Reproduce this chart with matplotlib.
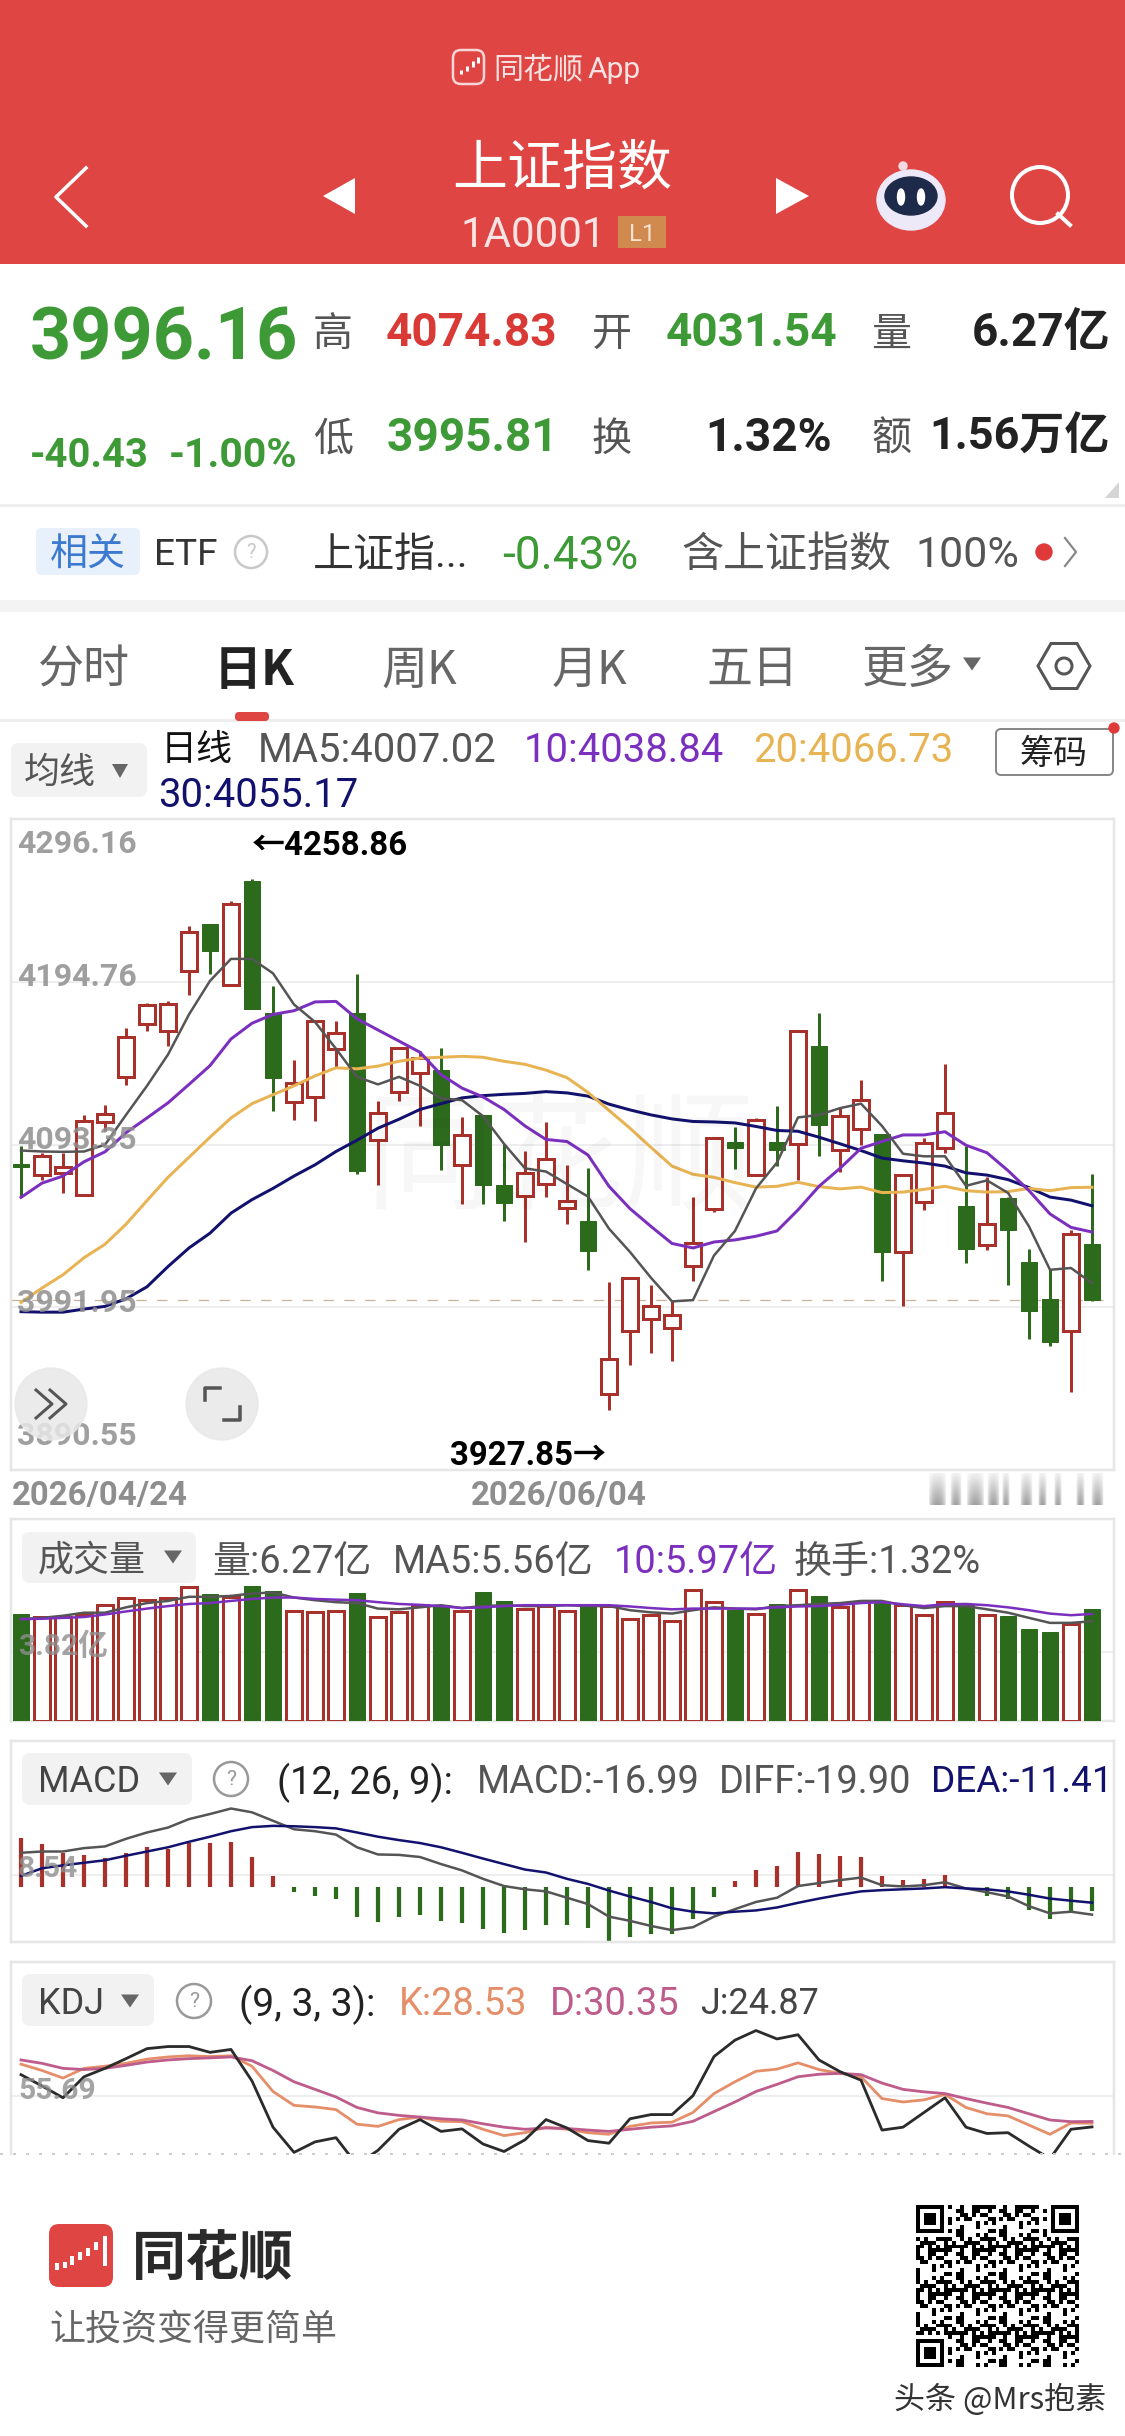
import matplotlib
matplotlib.use('Agg')
import numpy as np
import matplotlib.pyplot as plt
from matplotlib.colors import LinearSegmentedColormap
from matplotlib.patches import Rectangle, Circle, Ellipse, Polygon, FancyBboxPatch

W, H = 1125, 2436

RED = '#DE4543'
UP = '#A8322B'
DOWN = '#2C6A1C'
GREEN_TXT = '#3E9A36'
RED_TXT = '#D93A36'
GRID = '#E9E9E9'
C_MA5 = '#555555'
C_MA10 = '#7B2FBE'
C_MA20 = '#E8B453'
C_MA30 = '#12126E'
C_K = '#E58F6A'
C_D = '#BE5C8C'
C_J = '#2B2B2B'

# 日线数据
opens = [4081.2, 4074.3, 4075.7, 4061.8, 4107.1, 4135.5, 4168.3, 4164.1, 4201.7, 4230.6, 4192.5, 4257.6, 4175.0,
         4119.9, 4123.0, 4152.8, 4175.3, 4096.0, 4126.3, 4137.7, 4139.7, 4080.4, 4111.6, 4068.2, 4061.5, 4068.5,
         4053.7, 4045.6, 3938.0, 3976.9, 3984.7, 3979.1, 4017.5, 4053.4, 4095.2, 4074.3, 4095.2, 4093.8, 4154.7,
         4090.2, 4103.2, 4099.9, 4026.4, 4057.6, 4091.0, 4054.8, 4030.9, 4059.8, 4020.0, 3997.2, 3976.9, 4031.54]
closes = [4079.3, 4086.2, 4079.3, 4107.7, 4112.4, 4160.5, 4180.3, 4180.6, 4225.6, 4214.2, 4243.4, 4177.8, 4135.0,
          4131.6, 4170.3, 4162.8, 4076.8, 4113.2, 4153.3, 4147.2, 4093.2, 4099.3, 4068.2, 4057.0, 4075.4, 4084.3,
          4058.1, 4027.0, 3959.7, 4010.3, 3993.0, 3987.2, 4031.7, 4097.1, 4091.3, 4108.5, 4090.2, 4163.9, 4105.7,
          4111.3, 4120.8, 4026.4, 4074.3, 4094.6, 4112.7, 4028.4, 4043.7, 4040.3, 3989.5, 3970.0, 4037.3, 3996.16]
highs = [4092.4, 4088.2, 4088.2, 4111.8, 4118.2, 4166.1, 4181.4, 4182.8, 4229.5, 4230.6, 4245.1, 4258.86, 4192.0,
         4145.8, 4170.3, 4170.0, 4199.5, 4120.2, 4154.1, 4151.6, 4153.6, 4110.4, 4111.6, 4093.8, 4089.6, 4107.1,
         4080.4, 4078.7, 4007.5, 4010.3, 4006.1, 3995.8, 4060.4, 4097.1, 4104.1, 4109.9, 4117.4, 4164.1, 4175.3,
         4116.6, 4133.3, 4099.9, 4074.8, 4097.1, 4143.3, 4092.4, 4072.9, 4060.4, 4028.1, 4015.9, 4040.3, 4074.83]
lows = [4060.9, 4071.0, 4063.2, 4061.8, 4101.6, 4130.5, 4163.9, 4155.0, 4186.7, 4199.5, 4192.5, 4177.8, 4114.1,
        4108.8, 4108.2, 4141.6, 4074.8, 4068.2, 4120.2, 4104.9, 4077.6, 4056.2, 4056.2, 4045.9, 4032.6, 4060.4,
        4043.7, 4015.3, 3927.85, 3956.1, 3963.6, 3958.6, 4008.6, 4051.5, 4078.2, 4074.3, 4079.9, 4071.0, 4086.0,
        4076.2, 4093.2, 4008.1, 3993.0, 4052.6, 4088.2, 4019.5, 4027.6, 4005.9, 3971.9, 3968.0, 3939.1, 3995.81]

ma5 = [4089.6, 4089.0, 4088.8, 4089.0, 4093.2, 4111.8, 4129.9, 4149.4, 4174.4, 4195.3, 4209.0, 4209.0, 4200.0,
       4180.6, 4169.7, 4153.0, 4135.5, 4130.8, 4135.5, 4129.9, 4122.1, 4121.0, 4111.0, 4093.8, 4078.5, 4076.5,
       4068.7, 4060.9, 4040.9, 4026.4, 4010.3, 3995.6, 3996.4, 4024.2, 4039.5, 4066.0, 4082.1, 4110.2, 4111.8,
       4116.0, 4118.8, 4104.9, 4087.6, 4086.0, 4086.0, 4067.6, 4071.0, 4063.2, 4042.3, 4015.3, 4016.4, 4007.02]
ma10 = [4060.4, 4069.3, 4073.7, 4082.6, 4088.8, 4100.7, 4109.9, 4119.3, 4130.8, 4142.5, 4159.1, 4168.9, 4174.4,
        4176.7, 4182.2, 4182.5, 4171.7, 4164.7, 4157.8, 4150.8, 4136.9, 4128.5, 4123.0, 4115.2, 4104.9, 4096.5,
        4095.2, 4086.8, 4067.3, 4053.4, 4042.3, 4031.7, 4028.9, 4032.6, 4033.9, 4036.2, 4039.5, 4052.6, 4067.3,
        4078.5, 4091.0, 4095.2, 4099.3, 4099.3, 4101.3, 4092.9, 4088.2, 4077.1, 4064.6, 4050.1, 4041.7, 4038.84]
ma20 = [3995.0, 4003.9, 4012.2, 4022.8, 4031.2, 4043.7, 4058.4, 4072.9, 4085.4, 4097.9, 4109.9, 4118.8, 4124.4,
        4129.9, 4136.1, 4141.1, 4140.5, 4142.2, 4145.2, 4147.2, 4147.7, 4148.3, 4147.7, 4145.2, 4143.3, 4139.7,
        4135.0, 4125.8, 4114.6, 4103.5, 4091.5, 4079.9, 4074.8, 4072.9, 4069.6, 4066.8, 4067.3, 4069.8, 4067.1,
        4065.7, 4066.8, 4063.4, 4063.7, 4065.4, 4067.3, 4064.6, 4063.7, 4064.0, 4066.0, 4064.6, 4066.5, 4066.73]
ma30 = [3989.2, 3988.9, 3988.9, 3990.8, 3992.5, 3997.2, 4004.7, 4017.3, 4028.9, 4038.1, 4050.6, 4059.0, 4066.0,
        4073.7, 4080.7, 4089.0, 4096.0, 4103.5, 4109.1, 4115.2, 4118.8, 4122.4, 4123.8, 4124.6, 4125.2, 4126.3,
        4125.5, 4123.5, 4118.5, 4114.9, 4111.8, 4109.3, 4107.7, 4107.4, 4106.8, 4104.6, 4102.1, 4101.6, 4097.9,
        4093.8, 4089.6, 4084.9, 4083.2, 4081.8, 4079.9, 4075.7, 4074.3, 4071.5, 4066.5, 4060.6, 4058.7, 4055.17]

price_ticks = [4296.16, 4194.76, 4093.35, 3991.95, 3890.55]

# 成交量(亿)
volume = [5.99, 5.80, 5.80, 5.94, 6.46, 6.89, 6.74, 6.84, 7.47, 7.10, 6.93, 7.52, 7.24,
          6.15, 6.08, 6.15, 7.17, 5.80, 6.08, 6.46, 6.46, 6.11, 7.22, 6.67, 6.27, 6.41,
          6.11, 6.53, 6.39, 5.68, 5.92, 5.56, 7.29, 6.65, 6.18, 5.99, 6.51, 7.29, 7.00,
          6.34, 6.63, 6.65, 6.46, 5.90, 6.63, 6.46, 5.92, 5.85, 5.14, 4.95, 5.40, 6.27]
vol_ma5 = [5.68, 5.75, 5.87, 6.04, 6.04, 6.34, 6.58, 6.70, 6.93, 6.93, 6.98, 7.12, 7.17,
           6.89, 6.74, 6.63, 6.58, 6.27, 6.23, 6.34, 6.46, 6.30, 6.41, 6.46, 6.41, 6.41,
           6.46, 6.41, 6.41, 6.18, 6.06, 5.99, 6.18, 6.34, 6.27, 6.23, 6.41, 6.46, 6.53,
           6.58, 6.70, 6.70, 6.46, 6.30, 6.41, 6.41, 6.23, 6.04, 5.75, 5.47, 5.47, 5.56]
vol_ma10 = [5.68, 5.70, 5.75, 5.80, 5.94, 6.11, 6.27, 6.41, 6.53, 6.58, 6.70, 6.81, 6.89,
            6.89, 6.81, 6.77, 6.74, 6.63, 6.53, 6.48, 6.41, 6.30, 6.34, 6.41, 6.46, 6.46,
            6.46, 6.46, 6.46, 6.39, 6.30, 6.23, 6.27, 6.27, 6.27, 6.27, 6.34, 6.39, 6.41,
            6.48, 6.58, 6.63, 6.51, 6.41, 6.51, 6.53, 6.46, 6.34, 6.18, 5.99, 5.90, 5.97]

# MACD
macd = [34.8, 30.3, 24.0, 22.5, 20.4, 24.0, 27.9, 27.0, 30.9, 30.9, 31.5, 21.0, 7.6,
        -4.0, -6.4, -8.8, -21.9, -24.9, -21.3, -19.9, -24.3, -25.8, -30.3, -32.7, -30.9, -27.3,
        -27.3, -29.7, -38.7, -35.7, -33.9, -33.3, -22.8, -7.3, 3.7, 11.5, 14.5, 24.9, 23.1,
        21.6, 21.0, 7.6, 4.6, 5.5, 7.9, -0.5, -6.4, -8.8, -16.3, -22.8, -17.8, -16.99]
diff = [24.0, 24.9, 24.9, 27.3, 28.5, 33.9, 38.4, 41.9, 47.9, 51.5, 55.4, 52.7, 46.7,
        40.7, 39.3, 36.9, 27.9, 22.8, 22.5, 21.0, 16.0, 11.5, 5.5, 0.4, -1.9, -3.4,
        -7.9, -12.4, -21.3, -24.3, -27.9, -30.9, -28.8, -21.3, -16.0, -10.9, -7.9, 0.4, 2.5,
        4.6, 6.4, 1.0, 0.1, 1.0, 3.1, -1.3, -4.0, -7.0, -13.9, -19.0, -17.8, -19.90]
dea = [7.6, 13.0, 15.1, 16.9, 18.7, 21.9, 24.9, 27.9, 31.8, 35.4, 39.3, 42.2, 43.1,
       42.8, 42.2, 41.3, 38.4, 35.4, 33.0, 30.9, 27.9, 24.0, 19.9, 16.0, 12.1, 10.0,
       5.5, 1.9, -2.8, -7.0, -10.9, -15.4, -17.8, -19.0, -17.8, -16.9, -14.8, -11.5, -8.5,
       -5.8, -3.4, -2.5, -1.9, -1.3, -0.4, -1.3, -1.9, -3.4, -5.8, -8.5, -10.0, -11.41]

# KDJ
kdj_k = [87.6, 81.3, 73.7, 83.4, 85.5, 88.4, 92.6, 94.8, 96.0, 95.2, 96.0, 85.5, 60.3,
         46.4, 44.8, 42.2, 27.6, 25.4, 32.2, 34.7, 30.5, 30.1, 22.5, 16.2, 19.1, 24.6,
         22.5, 19.1, 17.5, 25.4, 28.8, 29.6, 39.3, 58.2, 70.0, 80.5, 82.6, 88.9, 82.2,
         78.4, 75.0, 53.2, 49.8, 51.9, 57.4, 44.3, 38.0, 35.9, 26.7, 17.5, 28.8, 28.53]
kdj_d = [91.8, 88.4, 83.4, 82.2, 83.4, 86.4, 89.7, 91.8, 93.1, 93.9, 94.8, 91.0, 81.3,
         70.0, 62.4, 54.8, 44.3, 38.9, 36.4, 34.7, 33.0, 31.8, 28.0, 24.6, 22.5, 23.8,
         23.3, 21.7, 20.4, 22.5, 24.6, 25.9, 30.5, 40.2, 49.8, 60.3, 67.4, 75.0, 77.5,
         78.4, 77.1, 68.7, 62.4, 59.9, 58.2, 53.2, 48.6, 44.3, 38.0, 31.8, 30.1, 30.35]
kdj_j = [77.1, 65.8, 54.0, 75.0, 83.4, 93.1, 103.1, 105.2, 105.2, 99.4, 102.3, 70.8, 24.6,
         -0.6, 9.9, 14.1, -13.0, 1.5, 22.5, 32.2, 20.4, 22.9, 7.8, 0.3, 12.0, 32.2,
         23.8, 11.2, 8.6, 33.0, 37.2, 37.2, 56.1, 95.2, 111.6, 121.2, 112.8, 117.0, 91.8,
         80.1, 71.6, 21.7, 24.6, 39.3, 54.0, 24.6, 18.3, 19.1, 5.7, -6.9, 22.5, 24.87]

days = np.arange(len(closes))

CJK = 'Noto Sans CJK SC'
ROBOTO = ['Roboto', CJK]
plt.rcParams['font.family'] = [CJK, 'DejaVu Sans']

fig = plt.figure(figsize=(W / 100, H / 100), dpi=100, facecolor='white')


def pt(px):
    # 像素换算成 point
    return px * 0.72


def px_axes(left, top, right, bottom, ylim):
    ax = fig.add_axes([left / W, 1 - bottom / H, (right - left) / W, (bottom - top) / H])
    ax.set_xlim((left - 21) / 21, (right - 21) / 21)
    ax.set_ylim(*ylim)
    ax.set_xticks([])
    ax.set_yticks([])
    ax.patch.set_alpha(0)
    for s in ax.spines.values():
        s.set_color('#E6E6E6')
        s.set_linewidth(pt(2.5))
    return ax


def candles_body(ax, x, top, bottom, up, width):
    if up:
        ax.add_patch(Rectangle((x - width / 2, bottom), width, top - bottom, facecolor='white',
                               edgecolor=UP, linewidth=pt(3), zorder=3))
    else:
        ax.add_patch(Rectangle((x - width / 2, bottom), width, top - bottom, facecolor=DOWN,
                               edgecolor=DOWN, linewidth=pt(1), zorder=3))


# K线主图
ax = px_axes(11, 819, 1114, 1470, (price_ticks[-1], price_ticks[0]))
for v in price_ticks[1:4]:
    ax.axhline(v, color=GRID, lw=pt(1.5), zorder=1)
ax.axhline(closes[-1], color='#C7B59C', lw=pt(1.3), dashes=(8, 8), zorder=1)
for i in days:
    up = closes[i] >= opens[i]
    color = UP if up else DOWN
    ax.vlines(i, lows[i], highs[i], color=color, lw=pt(3), zorder=2)
    candles_body(ax, i, max(opens[i], closes[i]), min(opens[i], closes[i]), up, 0.78)
ax.plot(days, ma30, color=C_MA30, lw=pt(3), zorder=4)
ax.plot(days, ma20, color=C_MA20, lw=pt(3), zorder=5)
ax.plot(days, ma10, color=C_MA10, lw=pt(3), zorder=6)
ax.plot(days, ma5, color=C_MA5, lw=pt(2.5), zorder=7)

# 成交量
ax_vol = px_axes(11, 1519, 1114, 1720.5, (0, 11.29))
ax_vol.axhline(3.82, color=GRID, lw=pt(1.5), zorder=1)
for i in days:
    candles_body(ax_vol, i, volume[i], 0, closes[i] >= opens[i], 0.78)
ax_vol.plot(days, vol_ma5, color=C_MA5, lw=pt(2.5), zorder=5)
ax_vol.plot(days, vol_ma10, color=C_MA10, lw=pt(2.5), zorder=6)

# MACD
ax_macd = px_axes(11, 1741, 1114, 1942, (-39.3, 103.3))
ax_macd.axhline(8.54, color=GRID, lw=pt(1.5), zorder=1)
for i in days:
    ax_macd.vlines(i, 0, macd[i], color=UP if macd[i] >= 0 else DOWN, lw=pt(4.2), zorder=2)
ax_macd.plot(days, diff, color=C_MA5, lw=pt(2.5), zorder=4)
ax_macd.plot(days, dea, color=C_MA30, lw=pt(2.5), zorder=5)

# KDJ
ax_kdj = px_axes(11, 1962, 1114, 2154, (-2.2, 189.7))
ax_kdj.axhline(55.69, color=GRID, lw=pt(1.5), zorder=1)
ax_kdj.plot(days, kdj_k, color=C_K, lw=pt(2.8), zorder=4)
ax_kdj.plot(days, kdj_d, color=C_D, lw=pt(2.8), zorder=5)
ax_kdj.plot(days, kdj_j, color=C_J, lw=pt(2.8), zorder=6)
ax_kdj.spines['bottom'].set_visible(False)

# 页面其余部分统一画在一张透明的像素坐标图层上
ui = fig.add_axes([0, 0, 1, 1], zorder=10)
ui.patch.set_alpha(0)
ui.axis('off')


def txt(x, y, s, px, color='#333333', ha='left', weight='normal', family=ROBOTO, alpha=None, z=5):
    # va=center 会因行距偏上，按字号下移一点
    return ui.text(x, y + px * 0.09, s, fontsize=pt(px), color=color, ha=ha, va='center', fontweight=weight,
                   family=family, alpha=alpha, zorder=z)


def box(x0, y0, x1, y1, face='#F2F2F2', edge='none', r=8, lw=0.0, z=1):
    ui.add_patch(FancyBboxPatch((x0 + r, y0 + r), x1 - x0 - 2 * r, y1 - y0 - 2 * r,
                                boxstyle='round,pad=%d' % r, facecolor=face, edgecolor=edge, linewidth=lw, zorder=z))


def tri_down(x, y, w, h, color='#666666'):
    ui.add_patch(Polygon([(x - w / 2, y - h / 2), (x + w / 2, y - h / 2), (x, y + h / 2)], color=color, zorder=5, lw=0))


def question(x, y, r, color='#999999'):
    ui.add_patch(Circle((x, y), r, facecolor='white', edgecolor=color, lw=pt(2.5), zorder=4))
    txt(x, y - 1, '?', r * 1.25, color, ha='center')


# 顶部红色标题栏
ui.add_patch(Rectangle((0, 0), W, 264, color=RED, zorder=0, lw=0))
box(453, 50, 484, 84, face=RED, edge='#F7D6D5', r=8, lw=pt(2.5))
ui.vlines([461, 467, 473, 478], [70, 66, 61, 57], [74, 71, 67, 63], color='white', lw=pt(3), zorder=3)
txt(493, 67, '同花顺', 30, '#F7E3E2', family=[CJK])
txt(588, 67, 'App', 30, '#F7E3E2')
txt(562, 164, '上证指数', 55, 'white', ha='center', family=[CJK])
txt(461, 232, '1A0001', 42, '#F9E4E3')
ui.add_patch(Rectangle((618, 216), 48, 32, color='#D0894F', zorder=1, lw=0))
txt(642, 232, 'L1', 24, '#F6E3D2', ha='center')
ui.plot([86, 56, 86], [168, 197, 226], color='white', lw=pt(3.5), zorder=3)
ui.add_patch(Polygon([(355, 178), (323, 196), (355, 214)], color='white', lw=0, zorder=3))
ui.add_patch(Polygon([(776, 178), (809, 196), (776, 214)], color='white', lw=0, zorder=3))
# 机器人图标
ui.add_patch(Circle((903, 166), 4, color='#F3D9E4', zorder=2))
ui.plot([903, 907], [166, 176], color='#F3D9E4', lw=pt(2.5), zorder=2)
ui.add_patch(Ellipse((911, 200), 68, 60, color='#EDE9F8', zorder=2))
ui.add_patch(Ellipse((911, 196), 52, 38, color='#1E2A4A', zorder=3))
ui.add_patch(Ellipse((901, 197), 7, 16, color='white', zorder=4))
ui.add_patch(Ellipse((921, 197), 7, 16, color='white', zorder=4))
# 搜索图标
ui.add_patch(Circle((1040, 195), 28, facecolor='none', edgecolor='white', lw=pt(4), zorder=3))
ui.plot([1058, 1070], [214, 225], color='white', lw=pt(4), zorder=3)

# 行情报价区
txt(30, 334, '3996.16', 72, GREEN_TXT, weight='bold')
txt(30, 452, '-40.43', 40, GREEN_TXT, weight='bold')
txt(169, 452, '-1.00%', 41, GREEN_TXT, weight='bold')
for x, y, s in [(333, 331, '高'), (612, 331, '开'), (891, 331, '量'), (333, 436, '低'), (612, 436, '换'), (891, 436, '额')]:
    txt(x, y, s, 40, '#555555', ha='center', family=[CJK])
txt(386, 329, '4074.83', 46, RED_TXT, weight='bold')
txt(666, 329, '4031.54', 46, GREEN_TXT, weight='bold')
txt(1110, 329, '6.27亿', 46, '#222222', ha='right', weight='bold')
txt(387, 434, '3995.81', 46, GREEN_TXT, weight='bold')
txt(832, 434, '1.32%', 46, '#222222', ha='right', weight='bold')
txt(1110, 434, '1.56万亿', 45, '#222222', ha='right', weight='bold')
ui.add_patch(Polygon([(1119, 482), (1119, 498), (1105, 498)], color='#D5D5D5', lw=0, zorder=2))
ui.add_patch(Rectangle((0, 504), W, 2.5, color='#EEEEEE', lw=0, zorder=1))

# ETF 行
box(36, 528, 140, 575, face='#E8F0FB', r=6)
txt(88, 552, '相关', 38, '#3C7AD0', ha='center', family=[CJK])
txt(154, 552, 'ETF', 37, '#333333')
question(251, 552, 16, '#C8C8C8')
txt(313, 552, '上证指...', 41, '#333333')
txt(502, 552, '-0.43%', 46, GREEN_TXT)
txt(681, 552, '含上证指数', 42, '#555555', family=[CJK])
txt(915, 552, '100%', 43, '#555555')
ui.add_patch(Circle((1044, 552), 8, color='#E0393A', zorder=3))
ui.plot([1065, 1076, 1065], [538, 552, 566], color='#888888', lw=pt(2.2), zorder=3)
ui.add_patch(Rectangle((0, 600), W, 12, color='#F3F3F3', lw=0, zorder=1))

# 周期切换
for x, s in [(84, '分时'), (752, '五日'), (908, '更多')]:
    txt(x, 666, s, 46, '#666666', ha='center', family=[CJK])
txt(254, 666, '日K', 48, '#222222', ha='center', weight='bold', family=[CJK])
txt(419, 666, '周K', 46, '#666666', ha='center', family=[CJK])
txt(589, 666, '月K', 46, '#666666', ha='center', family=[CJK])
tri_down(972, 664, 18, 13)
angles = np.deg2rad(np.arange(0, 360, 60))
ui.add_patch(Polygon(np.c_[1064 + 26 * np.cos(angles), 666 + 26 * np.sin(angles)], facecolor='none',
                     edgecolor='#555555', lw=pt(3), zorder=3))
ui.add_patch(Circle((1064, 666), 8, facecolor='none', edgecolor='#555555', lw=pt(3), zorder=3))
box(235, 712, 269, 721, face=RED, r=4, z=3)
ui.add_patch(Rectangle((0, 719), W, 2.5, color='#EEEEEE', lw=0, zorder=1))

# 均线标题
box(11, 743, 147, 797)
txt(60, 770, '均线', 36, '#555555', ha='center', family=[CJK])
tri_down(120, 771, 16, 14)
txt(161, 747, '日线', 36, '#111111', family=[CJK])
txt(258, 747, f'MA5:{ma5[-1]}', 40, '#555555')
txt(524, 747, f'10:{ma10[-1]}', 40, C_MA10)
txt(753, 747, f'20:{ma20[-1]}', 40, C_MA20)
txt(158, 792, f'30:{ma30[-1]}', 40, C_MA30)
box(996, 729, 1113, 775, face='white', edge='#888888', r=5, lw=pt(2))
txt(1054, 751, '筹码', 34, '#222222', ha='center', family=[CJK])
ui.add_patch(Circle((1114, 728), 5, color='#E0393A', zorder=6))

# 价格刻度压在主图之上
for y, v in zip([841, 974, 1137, 1300, 1433], price_ticks):
    txt(17, y, f'{v:.2f}', 32, '#8E8E8E', weight='bold', alpha=0.85)
txt(252, 843, f'←{max(highs):.2f}', 33, '#000000', weight='bold')
txt(606, 1453, f'{min(lows):.2f}→', 33, '#000000', ha='right', weight='bold')
txt(12, 1493, '2026/04/24', 33, '#8E8E8E', weight='bold')
txt(471, 1493, '2026/06/04', 33, '#8E8E8E', weight='bold')

# 主图水印
txt(560, 1150, '同花顺', 130, '#000000', ha='center', family=[CJK], alpha=0.03, z=0)

# 主图按钮
ui.add_patch(Circle((51, 1404), 36, color='#E8E8E8', alpha=0.85, zorder=6))
ui.plot([36, 52, 36], [1390, 1404, 1418], color='#555555', lw=pt(3), zorder=7)
ui.plot([50, 66, 50], [1390, 1404, 1418], color='#555555', lw=pt(3), zorder=7)
ui.add_patch(Circle((222, 1404), 36, color='#E8E8E8', alpha=0.85, zorder=6))
ui.plot([205, 205, 220], [1400, 1388, 1388], color='#555555', lw=pt(3.5), zorder=7)
ui.plot([240, 240, 224], [1407, 1420, 1420], color='#555555', lw=pt(3.5), zorder=7)

# 时间轴右侧的模糊刻度
fade = LinearSegmentedColormap.from_list('fade', ['#FFFFFF', '#A0A0A0'])
for x0, x1 in [(930, 945), (952, 960), (968, 983), (989, 998), (1004, 1008),
               (1022, 1031), (1040, 1045), (1056, 1060), (1078, 1083), (1093, 1102)]:
    ramp = np.linspace(0.15, 1, 32).reshape(-1, 1)
    edge = np.sin(np.linspace(0, np.pi, 16)).reshape(1, -1) ** 0.6
    ui.imshow(ramp * edge, cmap=fade, vmin=0, vmax=1, extent=(x0 - 2, x1 + 2, 1505, 1473),
              aspect='auto', zorder=2, interpolation='bilinear')

# 成交量标题
box(22, 1532, 196, 1583)
txt(92, 1557, '成交量', 36, '#555555', ha='center', family=[CJK])
tri_down(173, 1557, 18, 13)
txt(212, 1559, '量:6.27亿', 38, '#555555')
txt(393, 1559, f'MA5:{vol_ma5[-1]}亿', 38, '#555555')
txt(614, 1559, f'10:{vol_ma10[-1]}亿', 38, C_MA10)
txt(794, 1559, '换手:1.32%', 38, '#555555')
txt(18, 1644, '3.82亿', 30, '#8E8E8E', weight='bold', alpha=0.8)

# MACD 标题
box(22, 1753, 192, 1805)
txt(38, 1779, 'MACD', 36, '#444444')
tri_down(168, 1779, 18, 13)
question(231, 1779, 17)
txt(277, 1779, '(12, 26, 9):', 38, '#222222')
txt(477, 1779, f'MACD:{macd[-1]}', 38, '#555555')
txt(719, 1779, f'DIFF:{diff[-1]:.2f}', 38, '#555555')
txt(931, 1779, f'DEA:{dea[-1]}', 37, C_MA30)
txt(18, 1866, '8.54', 30, '#8E8E8E', weight='bold', alpha=0.8)

# KDJ 标题
box(22, 1974, 154, 2026)
txt(38, 2001, 'KDJ', 36, '#444444')
tri_down(130, 2001, 18, 13)
question(194, 2001, 17)
txt(239, 2001, '(9, 3, 3):', 39, '#222222')
txt(399, 2001, f'K:{kdj_k[-1]}', 38, C_K)
txt(550, 2001, f'D:{kdj_d[-1]}', 38, C_D)
txt(700, 2001, f'J:{kdj_j[-1]}', 36, '#444444')
txt(18, 2088, '55.69', 30, '#8E8E8E', weight='bold', alpha=0.8)

# 底部分享栏
ui.plot([0, W], [2154, 2154], color='#CCCCCC', lw=pt(2), dashes=(1.5, 5), zorder=3)
box(49, 2224, 113, 2287, face='#DE4543', r=10)
ui.vlines([57, 65, 72, 80, 88, 96, 105], [2263, 2262, 2256, 2252, 2248, 2242, 2236],
          [2270, 2268, 2265, 2260, 2256, 2250, 2266], color='white', lw=pt(4), zorder=3)
txt(132, 2255, '同花顺', 54, '#2A2A2A', weight='bold', family=[CJK])
txt(49, 2326, '让投资变得更简单', 36, '#666666', family=[CJK])

# 二维码
n = 41
qr = np.fromfunction(lambda i, j: ((i * i * 3 + j * j * 5 + i * j * 7 + i) % 11) < 5, (n, n)).astype(float)
for r0, c0 in [(0, 0), (0, n - 7), (n - 7, 0)]:
    qr[max(r0 - 1, 0):r0 + 8, max(c0 - 1, 0):c0 + 8] = 0
    qr[r0:r0 + 7, c0:c0 + 7] = 1
    qr[r0 + 1:r0 + 6, c0 + 1:c0 + 6] = 0
    qr[r0 + 2:r0 + 5, c0 + 2:c0 + 5] = 1
ui.imshow(qr, cmap='gray_r', extent=(916, 1079, 2367, 2205), aspect='auto', interpolation='nearest', zorder=2)
txt(894, 2397, '头条 @Mrs抱素', 31, '#333333', family=[CJK])

ui.set_xlim(0, W)
ui.set_ylim(H, 0)
fig.savefig('out.png', dpi=100, facecolor='white')
